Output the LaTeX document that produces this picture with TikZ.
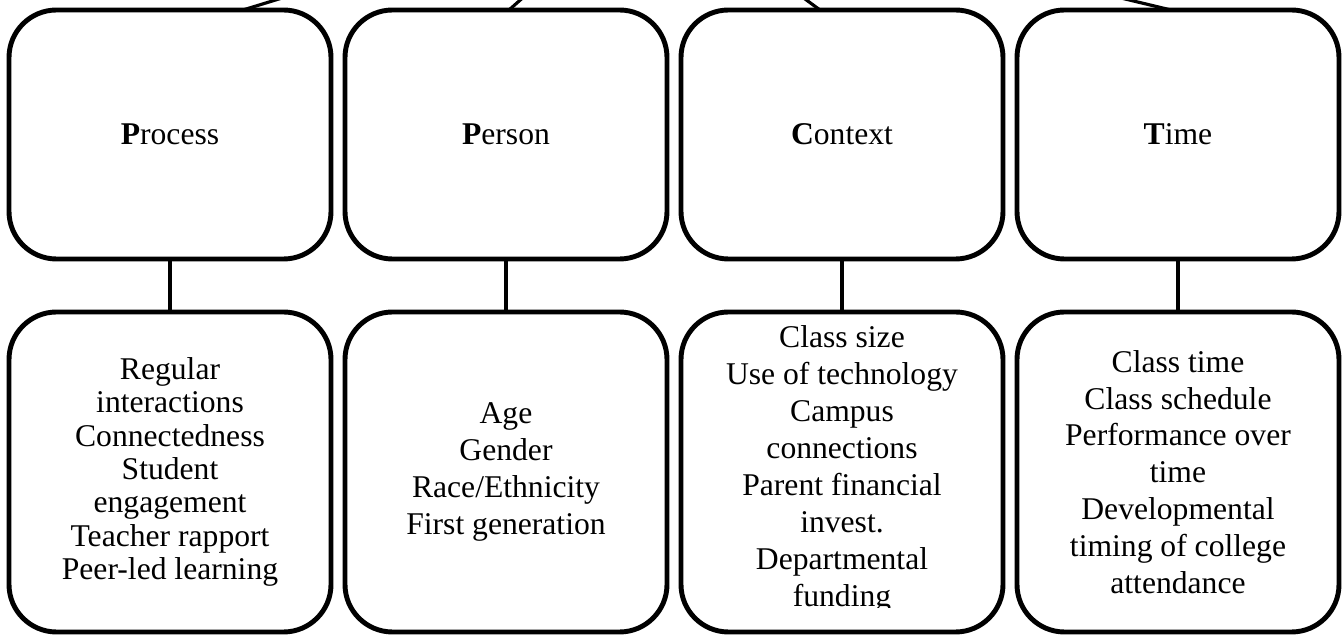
\documentclass[tikz,border=0pt]{standalone}
\usepackage{fontspec}
\setmainfont{Liberation Serif}
\usetikzlibrary{positioning}

\begin{document}
\begin{tikzpicture}[-, node distance=0.28cm, every node/.style={font=\fontsize{18}{21}\selectfont}]

    \tikzstyle{factor}=[draw=black, fill=white, line width=2.8pt, rounded corners=0.95cm, minimum width=6.44cm, minimum height=4.98cm, align=center, inner sep=0pt, outer sep=0pt]
    \tikzstyle{items}=[factor, minimum height=6.4cm]
    \tikzstyle{link}=[line width=2.3pt]
    \tikzstyle{uplink}=[line width=1.8pt]

    \useasboundingbox (0,0) rectangle (26.86,-12.74);
    \clip (0,0) rectangle (26.86,-12.74);

    % the four factors
    \node[factor] (proc) at (3.40,-2.69) {\textbf{P}rocess};
    \node[factor] (pers) [right=of proc] {\textbf{P}erson};
    \node[factor] (ctx)  [right=of pers] {\textbf{C}ontext};
    \node[factor] (time) [right=of ctx]  {\textbf{T}ime};

    % what goes with each one
    \node[items, font=\fontsize{18}{19}\selectfont] (procL) [below=1.06cm of proc] {Regular\\interactions\\Connectedness\\Student\\engagement\\Teacher rapport\\Peer-led learning};
    \node[items] (persL) [below=1.06cm of pers] {Age\\Gender\\Race/Ethnicity\\First generation};
    \node[items] (ctxL)  [below=1.06cm of ctx]  {};
    \node[items] (timeL) [below=1.06cm of time] {Class time\\Class schedule\\Performance over\\time\\Developmental\\timing of college\\attendance};

    \begin{scope}
      \clip (ctxL.north west) rectangle ([yshift=0.48cm]ctxL.south east);
      \node[align=center] (ctxT) at ([yshift=0.05cm]ctxL.center) {Class size\\Use of technology\\Campus\\connections\\Parent financial\\invest.\\Departmental\\funding};
    \end{scope}

    \coordinate (root) at (13.0,2.3);

    \path[link] (proc) edge (procL)
                (pers) edge (persL)
                (ctx)  edge (ctxL)
                (time) edge (timeL)
    ;
    \path[uplink] ([xshift=1.46cm]proc.north)  edge (root)
                  ([xshift=0.06cm]pers.north)  edge (root)
                  ([xshift=-0.44cm]ctx.north)  edge (root)
                  ([xshift=-0.14cm]time.north) edge (root)
    ;
\end{tikzpicture}
\end{document}
